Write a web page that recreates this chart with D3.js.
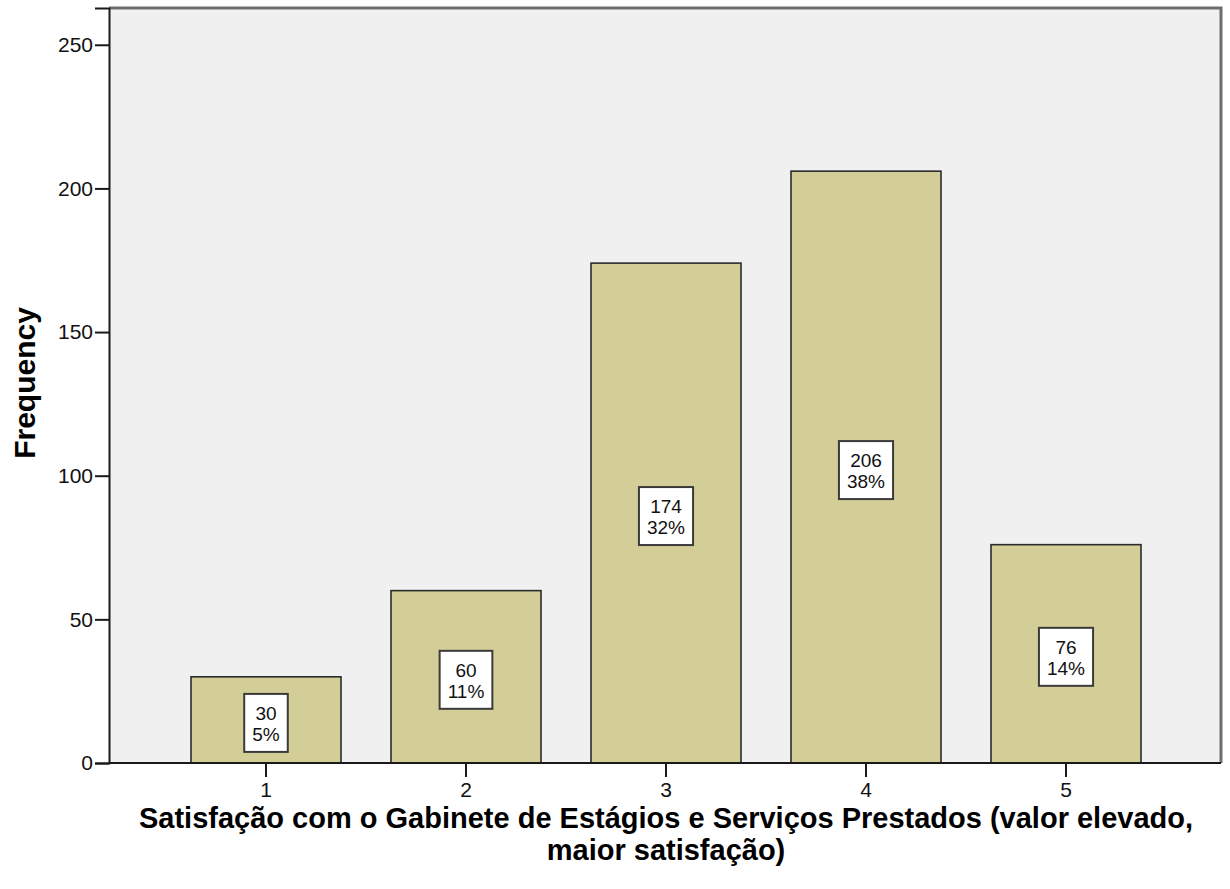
<!DOCTYPE html>
<html>
<head>
<meta charset="utf-8">
<script src="https://cdn.jsdelivr.net/npm/d3@7"></script>
<style>
  body { margin: 0; background: #fff; }
  svg { display: block; font-family: Arial, "Liberation Sans", sans-serif; }
</style>
</head>
<body>
<svg id="chart" width="1230" height="889"></svg>
<script>
// valores
var categories = ['1', '2', '3', '4', '5'];
var frequencies = [30, 60, 174, 206, 76];
var percentLabels = ['5%', '11%', '32%', '38%', '14%'];
var yTicks = [0, 50, 100, 150, 200, 250];

var xTitleLines = [
  'Satisfação com o Gabinete de Estágios e Serviços Prestados (valor elevado,',
  'maior satisfação)'
];
var yTitle = 'Frequency';

var svg = d3.select('#chart');

// área do gráfico
var plot = { left: 109, right: 1221, top: 8, bottom: 763 };

var y = d3.scaleLinear()
  .domain([0, 262.8])
  .range([plot.bottom, plot.top]);

var x = d3.scaleBand()
  .domain(categories)
  .range([166, 1166])
  .paddingInner(0.25)
  .paddingOuter(0.125);

// fundo cinza + moldura
svg.append('rect')
  .attr('x', plot.left)
  .attr('y', plot.top)
  .attr('width', plot.right - plot.left)
  .attr('height', plot.bottom - plot.top)
  .attr('fill', '#f0f0f0');

svg.append('path')
  .attr('d', 'M' + plot.left + ',' + plot.top + 'H' + plot.right + 'V' + plot.bottom)
  .attr('fill', 'none')
  .attr('stroke', '#6e6e6e')
  .attr('stroke-width', 3);

// barras
svg.append('g').selectAll('rect')
  .data(frequencies)
  .enter()
  .append('rect')
  .attr('x', function(d, i) { return x(categories[i]); })
  .attr('y', function(d) { return y(d); })
  .attr('width', x.bandwidth())
  .attr('height', function(d) { return y(0) - y(d); })
  .attr('fill', '#d3ce97')
  .attr('stroke', '#2b2b2b')
  .attr('stroke-width', 1.6);

// eixos
var yAxis = svg.append('g')
  .attr('transform', 'translate(' + plot.left + ',0)')
  .call(d3.axisLeft(y).tickValues(yTicks).tickSize(14).tickPadding(2).tickFormat(d3.format('d')));

var xAxis = svg.append('g')
  .attr('transform', 'translate(0,' + plot.bottom + ')')
  .call(d3.axisBottom(x).tickSize(14).tickPadding(5));

xAxis.select('.domain').remove();
svg.append('line')
  .attr('x1', plot.left).attr('x2', plot.right)
  .attr('y1', plot.bottom).attr('y2', plot.bottom)
  .attr('stroke', '#1a1a1a').attr('stroke-width', 2);

[yAxis, xAxis].forEach(function(ax) {
  ax.selectAll('.domain').attr('stroke', '#1a1a1a').attr('stroke-width', 2);
  ax.selectAll('.tick line').attr('stroke', '#1a1a1a').attr('stroke-width', 2);
  ax.selectAll('.tick text')
    .attr('font-size', '21px')
    .attr('font-family', 'Arial, "Liberation Sans", sans-serif')
    .attr('fill', '#111');
});

// rótulos das barras (frequência + percentagem)
var labels = svg.append('g').selectAll('g')
  .data(frequencies)
  .enter()
  .append('g')
  .attr('transform', function(d, i) {
    return 'translate(' + (x(categories[i]) + x.bandwidth() / 2) + ',' + (y(d / 2) + 3) + ')';
  });

labels.each(function(d, i) {
  var g = d3.select(this);
  var box = g.append('rect');
  var top = g.append('text')
    .attr('text-anchor', 'middle')
    .attr('font-size', '19px')
    .attr('fill', '#111')
    .attr('y', -3)
    .text(d);
  var bottom = g.append('text')
    .attr('text-anchor', 'middle')
    .attr('font-size', '19px')
    .attr('fill', '#111')
    .attr('y', 18)
    .text(percentLabels[i]);
  var w = Math.max(top.node().getBBox().width, bottom.node().getBBox().width) + 16;
  w = Math.max(w, 41);
  box.attr('x', -w / 2)
    .attr('y', -29)
    .attr('width', w)
    .attr('height', 58)
    .attr('fill', '#fff')
    .attr('stroke', '#3a3a3a')
    .attr('stroke-width', 2);
});

// títulos dos eixos (duas linhas, como no original)
svg.append('g').selectAll('text')
  .data(xTitleLines)
  .enter()
  .append('text')
  .attr('text-anchor', 'middle')
  .attr('font-size', '29px')
  .attr('font-weight', 'bold')
  .attr('fill', '#000')
  .attr('x', 666)
  .attr('y', function(d, i) { return 828 + i * 32; })
  .text(function(d) { return d; });

svg.append('text')
  .attr('transform', 'translate(35,383) rotate(-90)')
  .attr('text-anchor', 'middle')
  .attr('font-size', '30px')
  .attr('font-weight', 'bold')
  .attr('fill', '#000')
  .text(yTitle);
</script>
</body>
</html>
